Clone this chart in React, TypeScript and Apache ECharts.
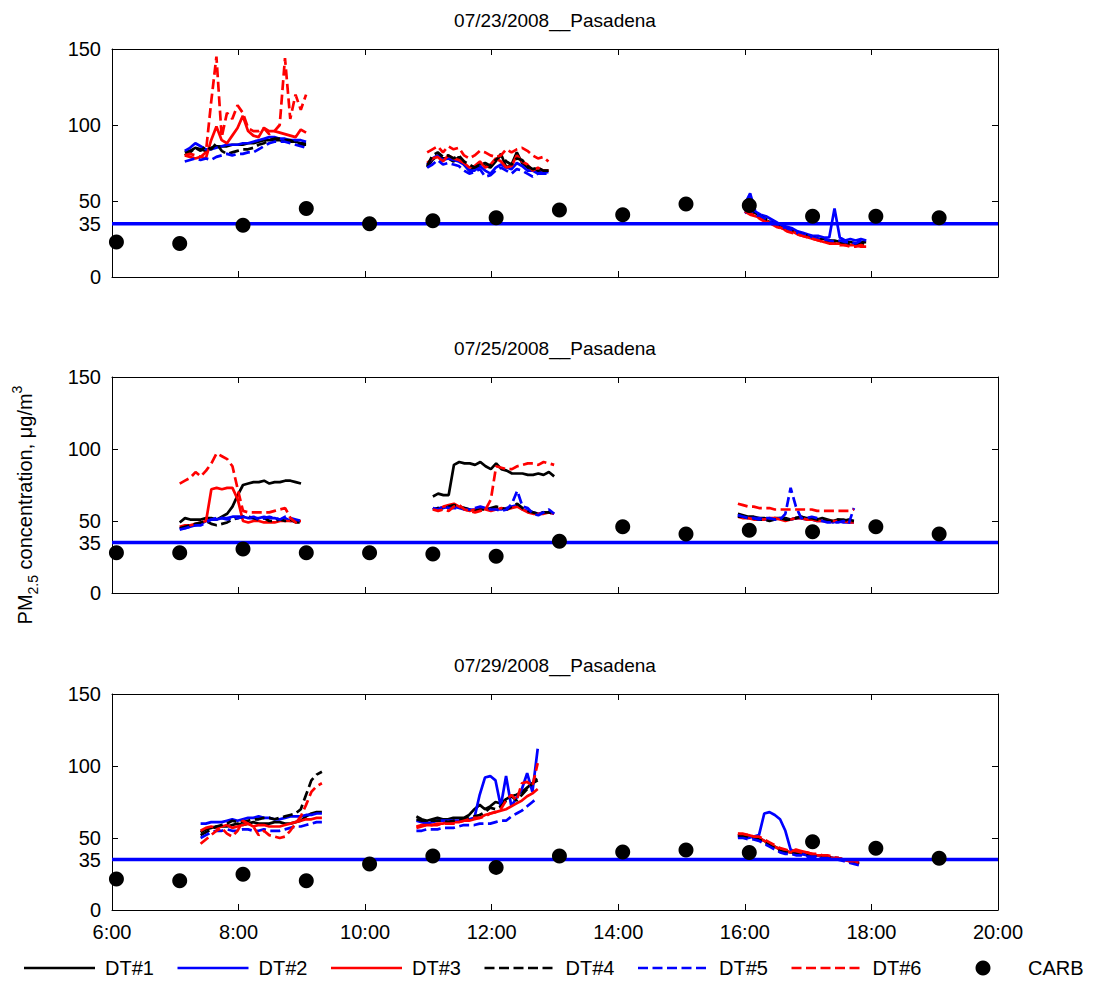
import React, { useEffect, useRef } from "react";
import * as echarts from "echarts";

// ---------- data ----------
const STEP_HOURS = 5 / 60; // sampling step of the DT monitors
const seriesNames = ["DT#1", "DT#2", "DT#3", "DT#4", "DT#5", "DT#6"];
const seriesColors = ["#000000", "#0000ff", "#ff0000", "#000000", "#0000ff", "#ff0000"];
const seriesDashed = [false, false, false, true, true, true];

const panelTitles = ["07/23/2008__Pasadena", "07/25/2008__Pasadena", "07/29/2008__Pasadena"];
const yTickValues = [0, 35, 50, 100, 150];
const standardLevel = 35;
const xMin = 6;
const xMax = 20;
const xInterval = 2;

const carbTimes = [6.07, 7.07, 8.07, 9.07, 10.07, 11.07, 12.07, 13.07, 14.07, 15.07, 16.07, 17.07, 18.07, 19.07];
const carbP1 = [23, 22, 34, 45, 35, 37, 39, 44, 41, 48, 47, 40, 40, 39];
const carbP2 = [28, 28, 30.5, 28, 28, 27, 25.5, 36, 46, 41, 43.5, 42.5, 46, 41];
const carbP3 = [21.5, 20.3, 24.8, 20.3, 32, 37.5, 29.6, 37.5, 40.3, 41.7, 40, 47.4, 42.8, 36];

// ---- panel 1 : 07/23/2008 ----
const p1Starts = [7.15, 10.98, 16.0];
const p1DT1 = [
  [82, 83, 85, 84, 83, 85, 86, 86, 86, 87, 87, 87, 88, 88, 89, 90, 90, 90, 90, 89, 89, 89, 88, 88],
  [72, 77, 80, 78, 78, 76, 79, 74, 70, 72, 75, 73, 72, 76, 81, 72, 74, 82, 75, 72, 70, 70, 70, 70],
  [44, 46, 42, 40, 37, 36, 35, 33, 31, 31, 29, 28, 27, 26, 25, 25, 24, 24, 23, 23, 23, 22, 23, 23],
];
const p1DT2 = [
  [83, 85, 88, 86, 84, 84, 85, 86, 87, 87, 87, 88, 88, 89, 90, 91, 92, 92, 91, 91, 90, 90, 90, 89],
  [74, 78, 80, 77, 78, 77, 76, 74, 70, 70, 73, 70, 68, 72, 74, 72, 71, 75, 73, 70, 70, 68, 69, 69],
  [48, 55, 43, 41, 40, 38, 36, 34, 33, 32, 30, 29, 28, 27, 27, 26, 26, 45, 26, 24, 25, 24, 25, 24],
];
const p1DT3 = [
  [80, 79, 78, 79, 78, 90, 99, 90, 88, 93, 98, 106, 96, 93, 92, 98, 96, 96, 95, 94, 93, 92, 97, 95],
  [75, 78, 79, 76, 80, 78, 77, 75, 72, 73, 76, 72, 74, 78, 76, 72, 73, 80, 76, 74, 70, 72, 70, 70],
  [43, 41, 40, 39, 37, 35, 34, 32, 31, 30, 28, 27, 26, 25, 24, 23, 23, 22, 22, 21, 21, 21, 20, 20],
];
const p1DT4 = [
  [80, 82, 85, 83, 86, 84, 88, 83, 81, 82, 83, 84, 84, 85, 87, 88, 90, 91, 91, 90, 90, 88, 87, 87],
  [73, 80, 82, 79, 80, 78, 80, 76, 74, 72, 74, 75, 73, 77, 80, 76, 74, 78, 77, 73, 71, 72, 70, 70],
  [44, 43, 41, 40, 38, 36, 34, 33, 31, 30, 29, 28, 27, 26, 25, 24, 24, 23, 23, 22, 22, 22, 22, 21],
];
const p1DT5 = [
  [76, 77, 78, 77, 78, 77, 79, 80, 81, 80, 81, 81, 82, 82, 84, 86, 88, 89, 89, 89, 88, 87, 86, 85],
  [72, 74, 77, 74, 75, 74, 73, 70, 68, 69, 71, 66, 67, 70, 72, 70, 68, 71, 70, 68, 66, 68, 68, 68],
  [42, 44, 41, 40, 38, 36, 35, 33, 32, 30, 29, 28, 27, 26, 25, 25, 24, 23, 24, 23, 23, 22, 24, 24],
];
const p1DT6 = [
  [80, 81, 80, 79, 82, 115, 145, 92, 108, 104, 113, 108, 98, 96, 96, 98, 94, 96, 100, 144, 104, 120, 110, 120],
  [82, 84, 86, 82, 86, 84, 85, 80, 78, 80, 83, 82, 80, 79, 80, 84, 82, 84, 85, 83, 80, 78, 79, 76],
  [43, 42, 40, 38, 36, 35, 33, 32, 30, 29, 28, 27, 26, 25, 24, 23, 22, 22, 21, 21, 20, 20, 21, 20],
];

// ---- panel 2 : 07/25/2008 ----
const p2Starts = [7.07, 11.07, 15.89];
const p2DT1 = [
  [49, 52, 51, 51, 51, 52, 52, 51, 53, 55, 60, 68, 75, 76, 77, 77, 78, 76, 77, 77, 78, 78, 77, 76],
  [67, 69, 68, 68, 89, 91, 90, 90, 89, 91, 88, 86, 90, 86, 85, 83, 83, 83, 82, 82, 83, 82, 84, 81],
  [55, 54, 53, 53, 52, 52, 51, 52, 52, 52, 51, 52, 53, 52, 51, 51, 52, 51, 50, 51, 50, 51, 50],
];
const p2DT2 = [
  [45, 45, 46, 47, 48, 50, 51, 51, 52, 52, 53, 53, 53, 52, 52, 52, 53, 52, 52, 51, 52, 50, 50, 50],
  [58, 59, 59, 60, 60, 59, 59, 58, 58, 59, 59, 58, 58, 58, 59, 60, 61, 58, 57, 56, 55, 56, 56, 55],
  [54, 53, 52, 52, 52, 51, 51, 51, 52, 51, 51, 52, 52, 51, 51, 50, 50, 50, 49, 50, 49, 49, 49],
];
const p2DT3 = [
  [46, 47, 47, 48, 49, 50, 72, 73, 72, 73, 73, 65, 50, 49, 50, 50, 49, 49, 49, 50, 50, 50, 50, 50],
  [58, 58, 60, 61, 62, 60, 58, 57, 58, 59, 58, 57, 58, 59, 58, 59, 60, 58, 56, 55, 55, 55, 56, 55],
  [53, 52, 52, 51, 51, 51, 52, 52, 51, 50, 51, 52, 52, 51, 51, 50, 50, 50, 50, 50, 50, 49, 49],
];
const p2DT4 = [
  [45, 46, 47, 48, 49, 50, 48, 47, 48, 49, 51, 52, 53, 53, 52, 51, 52, 50, 50, 51, 50, 51, 49, 49],
  [58, 59, 58, 60, 61, 60, 59, 58, 57, 58, 58, 59, 60, 59, 58, 60, 62, 59, 57, 56, 55, 56, 56, 55],
  [53, 53, 52, 52, 51, 51, 50, 51, 52, 51, 51, 52, 53, 52, 52, 51, 51, 50, 50, 51, 51, 50, 50],
];
const p2DT5 = [
  [44, 45, 46, 47, 47, 49, 51, 52, 52, 51, 52, 52, 53, 52, 53, 51, 52, 53, 52, 51, 53, 52, 51, 50],
  [59, 58, 60, 59, 59, 59, 58, 58, 59, 60, 59, 58, 58, 57, 58, 62, 71, 60, 59, 55, 54, 56, 58, 55],
  [54, 53, 52, 52, 51, 52, 52, 51, 51, 55, 73, 60, 52, 52, 53, 52, 50, 49, 49, 49, 50, 48, 59],
];
const p2DT6 = [
  [76, 78, 80, 84, 81, 85, 90, 97, 95, 93, 88, 72, 57, 56, 56, 56, 56, 56, 57, 58, 59, 52, 49, 48],
  [58, 57, 58, 57, 60, 61, 58, 57, 56, 57, 58, 65, 88, 87, 86, 86, 88, 89, 90, 90, 89, 91, 90, 89],
  [62, 61, 60, 60, 59, 59, 59, 58, 58, 58, 58, 58, 58, 58, 58, 57, 57, 57, 57, 57, 57, 57, 58],
];

// ---- panel 3 : 07/29/2008 ----
const p3Starts = [7.4, 10.81, 15.89];
const p3DT1 = [
  [54, 56, 57, 58, 58, 58, 59, 60, 59, 60, 61, 60, 60, 60, 61, 61, 60, 60, 61, 62, 65, 67, 68, 68],
  [65, 63, 62, 63, 64, 63, 63, 64, 64, 64, 66, 70, 73, 70, 72, 75, 74, 77, 79, 80, 82, 85, 88, 90],
  [52, 52, 51, 51, 50, 48, 46, 44, 42, 41, 40, 40, 39, 39, 38, 38, 37, 37, 36, 36, 35, 35, 34, 34],
];
const p3DT2 = [
  [60, 60, 61, 61, 61, 62, 63, 62, 63, 64, 64, 65, 64, 64, 63, 63, 64, 65, 65, 65, 66, 66, 67, 67],
  [62, 61, 60, 61, 62, 62, 62, 62, 62, 62, 63, 64, 80, 92, 93, 90, 72, 93, 72, 78, 84, 95, 82, 112],
  [52, 51, 50, 51, 52, 67, 68, 66, 63, 55, 42, 40, 39, 38, 38, 38, 37, 37, 36, 36, 35, 34, 33, 32],
];
const p3DT3 = [
  [55, 57, 58, 57, 58, 59, 57, 58, 59, 60, 58, 59, 59, 58, 58, 58, 59, 60, 61, 62, 63, 63, 64, 64],
  [58, 59, 59, 59, 60, 60, 61, 61, 61, 62, 62, 63, 64, 66, 67, 68, 69, 70, 72, 74, 76, 79, 81, 84],
  [53, 52, 52, 51, 50, 48, 46, 44, 42, 41, 40, 42, 41, 40, 39, 38, 38, 37, 36, 36, 35, 34, 33, 32],
];
const p3DT4 = [
  [52, 54, 56, 58, 59, 60, 62, 61, 61, 62, 63, 63, 64, 64, 63, 64, 65, 66, 67, 70, 80, 90, 94, 96],
  [63, 62, 62, 62, 62, 62, 61, 62, 63, 63, 64, 65, 66, 68, 71, 70, 72, 76, 79, 76, 80, 84, 88, 92],
  [51, 51, 50, 50, 49, 47, 45, 43, 41, 40, 40, 39, 39, 38, 38, 37, 37, 37, 36, 35, 35, 34, 33, 33],
];
const p3DT5 = [
  [50, 52, 54, 55, 55, 56, 55, 55, 56, 56, 55, 55, 56, 55, 55, 55, 56, 57, 58, 58, 59, 60, 61, 61],
  [55, 55, 56, 56, 56, 57, 57, 57, 58, 59, 59, 59, 60, 60, 60, 61, 62, 62, 65, 67, 69, 72, 75, 78],
  [50, 50, 49, 49, 48, 46, 44, 42, 40, 39, 39, 38, 38, 37, 37, 37, 36, 36, 35, 35, 34, 33, 32, 31],
];
const p3DT6 = [
  [46, 49, 52, 55, 57, 53, 51, 55, 62, 60, 58, 52, 55, 52, 51, 50, 51, 55, 60, 65, 73, 82, 86, 88],
  [57, 58, 59, 59, 59, 60, 60, 60, 61, 62, 63, 64, 64, 65, 67, 68, 70, 76, 80, 76, 88, 89, 86, 102],
  [53, 53, 52, 51, 51, 49, 47, 45, 43, 42, 41, 41, 40, 40, 39, 39, 38, 38, 37, 36, 35, 34, 34, 33],
];

const panels = [
  { title: panelTitles[0], starts: p1Starts, dts: [p1DT1, p1DT2, p1DT3, p1DT4, p1DT5, p1DT6], carb: carbP1 },
  { title: panelTitles[1], starts: p2Starts, dts: [p2DT1, p2DT2, p2DT3, p2DT4, p2DT5, p2DT6], carb: carbP2 },
  { title: panelTitles[2], starts: p3Starts, dts: [p3DT1, p3DT2, p3DT3, p3DT4, p3DT5, p3DT6], carb: carbP3 },
];

// ---------- layout ----------
const W = 1097;
const H = 982;
const GRID_LEFT = 112;
const GRID_RIGHT = 99;
const gridBoxes = [
  { top: 49, height: 228 },
  { top: 377, height: 216 },
  { top: 694, height: 216 },
];
const titleY = [20, 348, 665];
const FONT = 'Arial, "Liberation Sans", Helvetica, sans-serif';
const FS = 20;

function segmentData(starts: number[], segs: number[][]) {
  const out: (number | null)[][] = [];
  segs.forEach((vals, k) => {
    vals.forEach((v, i) => out.push([starts[k] + i * STEP_HOURS, v]));
    out.push([starts[k] + vals.length * STEP_HOURS, null]);
  });
  return out;
}

function buildOption() {
  const grid: any[] = [];
  const xAxis: any[] = [];
  const yAxis: any[] = [];
  const series: any[] = [];
  const graphic: any[] = [];

  panels.forEach((p, gi) => {
    const isLast = gi === panels.length - 1;
    grid.push({ left: GRID_LEFT, right: GRID_RIGHT, top: gridBoxes[gi].top, height: gridBoxes[gi].height, containLabel: false });
    const axisLine = { show: true, onZero: false, lineStyle: { color: "#000", width: 1 } };
    const tick = { show: true, inside: true, length: 6, lineStyle: { color: "#000", width: 1 } };
    xAxis.push({
      type: "value", gridIndex: gi, min: xMin, max: xMax, interval: xInterval, position: "bottom",
      axisLine, axisTick: tick, splitLine: { show: false },
      axisLabel: { show: isLast, color: "#000", fontSize: FS, fontFamily: FONT, margin: 12, formatter: (v: number) => `${v}:00` },
    });
    xAxis.push({
      type: "value", gridIndex: gi, min: xMin, max: xMax, interval: xInterval, position: "top",
      axisLine, axisTick: tick, splitLine: { show: false }, axisLabel: { show: false },
    });
    yAxis.push({
      type: "value", gridIndex: gi, min: 0, max: 150, position: "left",
      axisLine, axisTick: { ...tick, customValues: yTickValues }, splitLine: { show: false },
      axisLabel: { show: true, color: "#000", fontSize: FS, fontFamily: FONT, margin: 11, customValues: yTickValues },
    });
    yAxis.push({
      type: "value", gridIndex: gi, min: 0, max: 150, position: "right",
      axisLine, axisTick: { ...tick, customValues: yTickValues }, splitLine: { show: false },
      axisLabel: { show: false },
    });

    const xi = gi * 2;
    const yi = gi * 2;
    p.dts.forEach((segs, si) => {
      series.push({
        name: seriesNames[si], type: "line", xAxisIndex: xi, yAxisIndex: yi,
        data: segmentData(p.starts, segs), showSymbol: false, symbol: "none", connectNulls: false,
        lineStyle: { color: seriesColors[si], width: 2.7, type: seriesDashed[si] ? [10, 4.5] : "solid" },
        itemStyle: { color: seriesColors[si] }, z: 2 + si * 0.01,
      });
    });
    series.push({
      name: "35 standard", type: "line", xAxisIndex: xi, yAxisIndex: yi,
      data: [[xMin, standardLevel], [xMax, standardLevel]], showSymbol: false, symbol: "none",
      lineStyle: { color: "#0000ff", width: 3.5 }, z: 3,
    });
    series.push({
      name: "CARB", type: "scatter", xAxisIndex: xi, yAxisIndex: yi,
      data: carbTimes.map((t, i) => [t, p.carb[i]]), symbol: "circle", symbolSize: 15,
      itemStyle: { color: "#000", opacity: 1 }, z: 4,
    });

    graphic.push({
      type: "text", x: GRID_LEFT + (W - GRID_LEFT - GRID_RIGHT) / 2, y: titleY[gi],
      style: { text: p.title, fontSize: FS - 1, fontFamily: FONT, fill: "#000", align: "center", verticalAlign: "middle" },
    });
  });

  // y-axis title
  graphic.push({
    type: "text", x: 25, y: 505, rotation: Math.PI / 2,
    style: {
      text: "{n|PM}{sub|2.5}{n| concentration, \u03bcg/m}{sup|3}",
      fill: "#000", align: "center", verticalAlign: "middle", fontFamily: FONT,
      rich: {
        n: { fontSize: FS, fontFamily: FONT, lineHeight: 30, fill: "#000" },
        sub: { fontSize: 14, fontFamily: FONT, lineHeight: 14, verticalAlign: "bottom", fill: "#000" },
        sup: { fontSize: 14, fontFamily: FONT, lineHeight: 14, verticalAlign: "top", fill: "#000" },
      },
    },
  });

  // legend
  const legendY = 968;
  seriesNames.forEach((name, i) => {
    const x0 = 24 + i * 153.5;
    graphic.push({
      type: "line", shape: { x1: x0, y1: legendY, x2: x0 + 71, y2: legendY },
      style: { stroke: seriesColors[i], lineWidth: 2.7, lineDash: seriesDashed[i] ? [10, 4.5] : null },
    });
    graphic.push({
      type: "text", x: x0 + 81, y: legendY,
      style: { text: name, fontSize: FS, fontFamily: FONT, fill: "#000", align: "left", verticalAlign: "middle" },
    });
  });
  graphic.push({ type: "circle", shape: { cx: 983, cy: legendY, r: 7.5 }, style: { fill: "#000" } });
  graphic.push({
    type: "text", x: 1028, y: legendY,
    style: { text: "CARB", fontSize: FS, fontFamily: FONT, fill: "#000", align: "left", verticalAlign: "middle" },
  });

  return { animation: false, backgroundColor: "#fff", grid, xAxis, yAxis, series, graphic };
}

export default function App() {
  const ref = useRef<HTMLDivElement>(null);
  useEffect(() => {
    if (!ref.current) return;
    const chart = echarts.init(ref.current, null, { renderer: "svg" });
    chart.setOption(buildOption() as any);
    return () => chart.dispose();
  }, []);
  return <div ref={ref} style={{ position: "absolute", left: 0, top: 0, width: W, height: H }} />;
}
